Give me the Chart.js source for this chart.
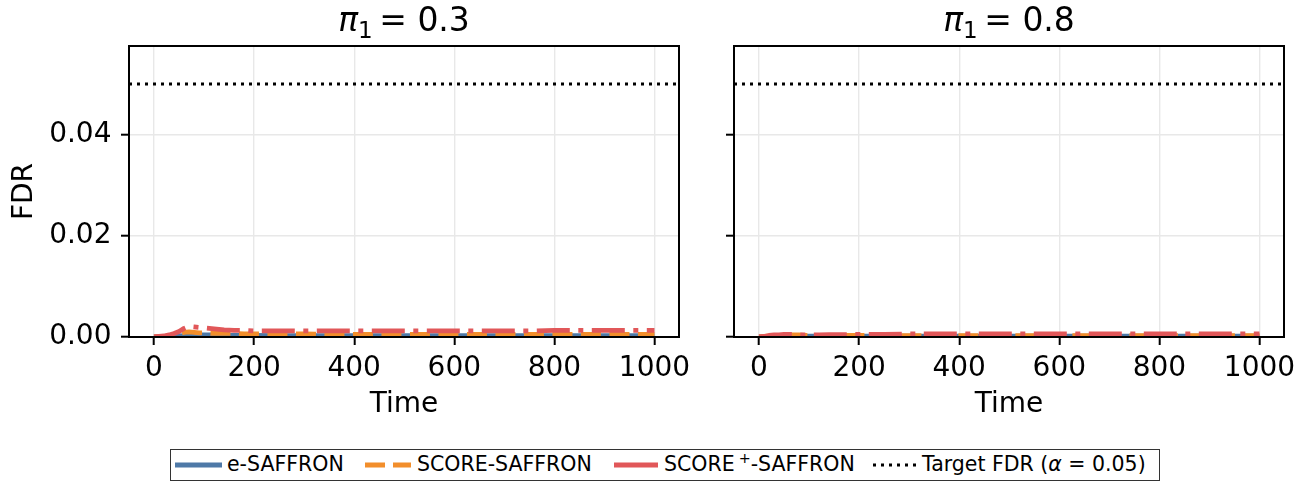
<!DOCTYPE html>
<html>
<head>
<meta charset="utf-8">
<script src="https://cdn.jsdelivr.net/npm/chart.js@4.4.1/dist/chart.umd.min.js"></script>
<style>
  html, body { margin:0; padding:0; background:#fff; width:1304px; height:482px; overflow:hidden; font-family:"DejaVu Sans", sans-serif; }
  canvas { position:absolute; top:0; }
  #c1 { left:0; }
  #c2 { left:690px; }
  #legend { position:absolute; left:170px; top:449px; width:990px; height:32px; box-sizing:border-box; border:1.5px solid #333; background:#fff; }
  #legend svg { position:absolute; top:9px; }
  #legend span { position:absolute; top:0; line-height:29px; font-size:20.5px; color:#000; white-space:nowrap; }
  #legend sup { font-size:0.7em; vertical-align:0.55em; line-height:0; margin-left:4px; }
</style>
</head>
<body>
<canvas id="c1" width="720" height="440" style="width:720px;height:440px"></canvas>
<canvas id="c2" width="614" height="440" style="width:614px;height:440px"></canvas>
<div id="legend">
  <svg style="left:4px" width="47" height="12"><line x1="0" y1="6" x2="47" y2="6" stroke="#4e79a7" stroke-width="4.8"/></svg>
  <span style="left:56px">e-SAFFRON</span>
  <svg style="left:194px" width="46" height="12"><line x1="0" y1="6" x2="46" y2="6" stroke="#f28e2b" stroke-width="4.8" stroke-dasharray="20 8"/></svg>
  <span style="left:246px">SCORE-SAFFRON</span>
  <svg style="left:443px" width="44" height="12"><line x1="0" y1="6" x2="44" y2="6" stroke="#e15759" stroke-width="4.8"/></svg>
  <span style="left:493px">SCORE<sup>+</sup>-SAFFRON</span>
  <svg style="left:702px" width="44" height="12"><line x1="0" y1="6" x2="44" y2="6" stroke="#000" stroke-width="3" stroke-dasharray="3 5"/></svg>
  <span style="left:751px">Target FDR (<i>α</i> = 0.05)</span>
</div>
<script>
// ---------------- data ----------------
const times = [0,10,20,30,40,50,60,70,80,90,100,120,140,160,180,200,250,300,350,400,450,500,550,600,650,700,750,800,850,900,950,1000];

const panelPi = [0.3, 0.8];

// pi_1 = 0.3
const eSaffron03     = [0,0.0001,0.0001,0.00015,0.0002,0.0002,0.00025,0.0003,0.0003,0.0004,0.0004,0.0004,0.0003,0.0003,0.0003,0.0003,0.00025,0.00025,0.00025,0.00025,0.00025,0.00025,0.00025,0.00025,0.00025,0.00025,0.00025,0.00025,0.00025,0.00025,0.00025,0.00025];
const scoreSaffron03 = [0,0.00005,0.0001,0.0002,0.0004,0.0007,0.0009,0.001,0.0009,0.0008,0.0008,0.0007,0.0007,0.0007,0.0006,0.0006,0.0006,0.0006,0.0005,0.0005,0.0005,0.0005,0.0005,0.0005,0.0005,0.0005,0.0005,0.0005,0.0005,0.0005,0.0005,0.0005];
const scorePlus03    = [0,0.0001,0.0002,0.0004,0.0007,0.0011,0.0017,0.0021,0.002,0.0019,0.0018,0.0016,0.0014,0.0013,0.0013,0.0012,0.0012,0.0012,0.0012,0.0012,0.0012,0.0012,0.0012,0.0012,0.0012,0.0012,0.0012,0.0013,0.0013,0.0013,0.0013,0.0013];

// pi_1 = 0.8
const eSaffron08     = [0,0.00005,0.0001,0.0001,0.0001,0.00015,0.00015,0.00015,0.00015,0.00015,0.00015,0.00015,0.00015,0.00015,0.00015,0.00015,0.00015,0.00015,0.00015,0.00015,0.00015,0.00015,0.00015,0.00015,0.00015,0.00015,0.00015,0.00015,0.00015,0.00015,0.00015,0.00015];
const scoreSaffron08 = [0,0.0001,0.0002,0.0003,0.0003,0.0004,0.0004,0.0004,0.0004,0.0003,0.0003,0.0003,0.0003,0.0003,0.0003,0.0003,0.0003,0.00025,0.00025,0.00025,0.00025,0.00025,0.00025,0.00025,0.00025,0.00025,0.00025,0.00025,0.00025,0.00025,0.00025,0.00025];
const scorePlus08    = [0,0.0001,0.0003,0.0004,0.0004,0.0005,0.0005,0.0005,0.0004,0.0004,0.0004,0.0004,0.00045,0.00045,0.0005,0.0005,0.0005,0.0006,0.0006,0.0006,0.0006,0.0006,0.0006,0.0006,0.0006,0.0006,0.0006,0.0006,0.0006,0.0006,0.0006,0.0006];

const targetFDR = 0.05;
const xTicks = [0,200,400,600,800,1000];
const yTicks = [0,0.02,0.04];
const xLimits = [-50, 1049];
const yLimits = [0, 0.0575];
const seriesNames = ['e-SAFFRON','SCORE-SAFFRON','SCORE+-SAFFRON','Target FDR'];

// ---------------- drawing ----------------
const FONT = '"DejaVu Sans"';
const COLORS = ['#4e79a7','#f28e2b','#e15759','#000000'];
const GRID = '#e8e8e8';
const H = 440;
const PLOT_BOTTOM = 337;
const PLOT_TOP = 46;

function pts(vals){ return times.map((t,i)=>({x:t, y:vals[i]})); }

function frameAndTitle(piVal){
  return {
    id:'frameTitle',
    afterDatasetsDraw(chart){
      const a = chart.chartArea, ctx = chart.ctx;
      ctx.save();
      ctx.strokeStyle = '#000'; ctx.lineWidth = 2;
      ctx.strokeRect(a.left, a.top, a.right-a.left, a.bottom-a.top);
      ctx.restore();
    },
    afterDraw(chart){
      const a = chart.chartArea, ctx = chart.ctx;
      const F = 33;
      const parts = [
        {t:'π', font:'italic '+F+'px '+FONT, dy:0},
        {t:'1', font:Math.round(F*0.7)+'px '+FONT, dy:F*0.2},
        {t:'\u2009= '+piVal.toFixed(1), font:F+'px '+FONT, dy:0}
      ];
      ctx.save();
      ctx.fillStyle = '#000'; ctx.textBaseline = 'alphabetic'; ctx.textAlign = 'left';
      let w = 0;
      parts.forEach(p=>{ ctx.font = p.font; p.w = ctx.measureText(p.t).width; w += p.w; });
      let x = (a.left + a.right)/2 - w/2;
      const base = 31;
      parts.forEach(p=>{ ctx.font = p.font; ctx.fillText(p.t, x, base + p.dy); x += p.w; });
      ctx.restore();
    }
  };
}

function makeChart(id, W, yAxisWidth, rightPad, showY, piVal, blue, orange, red){
  const lineDs = (label, vals, color, dash, order) => ({
    label, data: pts(vals), borderColor: color, backgroundColor: color,
    borderWidth: 4.8, borderDash: dash, pointRadius: 0, tension: 0, fill: false,
    clip: 0, order, borderCapStyle:'butt', borderJoinStyle:'round'
  });
  return new Chart(document.getElementById(id), {
    type: 'line',
    data: {
      datasets: [
        lineDs(seriesNames[0], blue, COLORS[0], [], 3),
        lineDs(seriesNames[1], orange, COLORS[1], [20, 8.5], 2),
        lineDs(seriesNames[2], red, COLORS[2], [33, 8.5, 5, 8.5], 1),
        { label: seriesNames[3], data: [{x:xLimits[0], y:targetFDR},{x:xLimits[1], y:targetFDR}],
          borderColor:'#000', borderWidth:3, borderDash:[3,5], pointRadius:0, clip:0, order:0, borderCapStyle:'butt' }
      ]
    },
    options: {
      responsive:false, animation:false, devicePixelRatio:1,
      layout:{ padding:{ top:PLOT_TOP, right:rightPad, left:0, bottom:0 } },
      plugins:{ legend:{display:false}, tooltip:{enabled:false}, title:{display:false} },
      scales:{
        x:{
          type:'linear', min:xLimits[0], max:xLimits[1],
          afterFit(s){ s.height = H - PLOT_BOTTOM; },
          afterBuildTicks(s){ s.ticks = xTicks.map(v=>({value:v})); },
          grid:{ color:GRID, lineWidth:1.4, tickLength:8, tickColor:'#000', tickWidth:2, drawTicks:true },
          border:{ display:false },
          ticks:{ font:{family:'DejaVu Sans', size:28}, color:'#000', padding:7, maxRotation:0, autoSkip:false,
                  callback:v=>String(v) },
          title:{ display:true, text:'Time', color:'#000', font:{family:'DejaVu Sans', size:28}, padding:{top:0, bottom:18} }
        },
        y:{
          type:'linear', min:yLimits[0], max:yLimits[1],
          afterFit(s){ s.width = yAxisWidth; },
          afterBuildTicks(s){ s.ticks = yTicks.map(v=>({value:v})); },
          grid:{ color:GRID, lineWidth:1.4, tickLength:8, tickColor:'#000', tickWidth:2, drawTicks:true },
          border:{ display:false },
          ticks:{ display:showY, font:{family:'DejaVu Sans', size:28}, color:'#000', padding:9.5,
                  callback:v=>v.toFixed(2) },
          title:{ display:showY, text:'FDR', color:'#000', font:{family:'DejaVu Sans', size:28}, padding:{top:7.5, bottom:0} }
        }
      }
    },
    plugins:[frameAndTitle(piVal)]
  });
}

makeChart('c1', 720, 129, 41, true,  panelPi[0], eSaffron03, scoreSaffron03, scorePlus03);
makeChart('c2', 614, 44, 20, false, panelPi[1], eSaffron08, scoreSaffron08, scorePlus08);
</script>
</body>
</html>
